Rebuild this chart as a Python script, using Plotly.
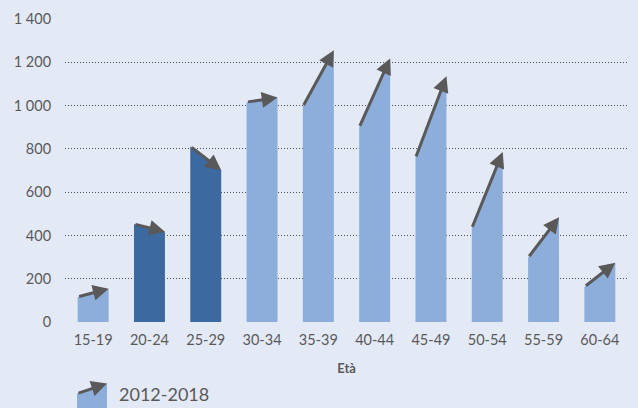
import plotly.graph_objects as go

# Age bands and the two observed levels per band
age_bands = ["15-19", "20-24", "25-29", "30-34", "35-39",
             "40-44", "45-49", "50-54", "55-59", "60-64"]
values_2012 = [116, 453, 812, 1016, 996, 899, 758, 433, 297, 162]
values_2018 = [154, 417, 701, 1037, 1256, 1218, 1136, 786, 484, 274]
y_ticks = [0, 200, 400, 600, 800, 1000, 1200, 1400]

BG = "#E4E9F6"
UP = "#8DAEDB"
DOWN = "#3C6AA0"
ARROW = "#595959"
TEXT = "#595959"
FONT = "Lato"
HALF = 0.275  # half bar width in category units

W, H = 638, 408
ML, MR, MT, MB = 65, 10, 17, 86

fig = go.Figure()

# Each band is a trapezoid: left edge at the 2012 level, right edge at 2018
for i, (a, b) in enumerate(zip(values_2012, values_2018)):
    color = UP if b >= a else DOWN
    fig.add_trace(go.Scatter(
        x=[i - HALF, i - HALF, i + HALF, i + HALF, i - HALF],
        y=[0, a, b, 0, 0],
        mode="lines", fill="toself", fillcolor=color,
        line=dict(width=0, color=color),
        showlegend=False, hoverinfo="skip",
    ))
    fig.add_annotation(
        x=i + HALF, y=b, ax=i - HALF, ay=a,
        xref="x", yref="y", axref="x", ayref="y",
        showarrow=True, arrowhead=2, arrowsize=1.05, arrowwidth=3,
        arrowcolor=ARROW, standoff=0, text="",
    )

# Legend swatch drawn in paper coordinates
pw, ph = W - ML - MR, H - MT - MB
def px(xp):
    return (xp - ML) / pw
def py(yp):
    return (H - MB - yp) / ph

fig.add_shape(type="path", xref="paper", yref="paper",
              path=f"M {px(77)},{py(410)} L {px(77)},{py(394)} L {px(107)},{py(384)} L {px(107)},{py(410)} Z",
              fillcolor=UP, line=dict(width=0))
fig.add_annotation(x=px(107), y=py(384), ax=-30, ay=10,
                   xref="paper", yref="paper", axref="pixel", ayref="pixel",
                   showarrow=True, arrowhead=2, arrowsize=1.05, arrowwidth=3,
                   arrowcolor=ARROW, standoff=0, text="")
fig.add_annotation(x=px(117), y=py(394), xref="paper", yref="paper",
                   text="2012-2018", showarrow=False, xanchor="left", yanchor="middle",
                   font=dict(family=FONT, size=18, color=TEXT))

fig.update_layout(
    width=W, height=H,
    margin=dict(l=ML, r=MR, t=MT, b=MB),
    paper_bgcolor=BG, plot_bgcolor=BG,
    separators=", ",
    showlegend=False,
    font=dict(family=FONT, size=14.5, color=TEXT),
)
fig.update_xaxes(
    range=[-0.5, 9.5], tickvals=list(range(len(age_bands))), ticktext=age_bands,
    showgrid=False, zeroline=False, showline=False,
    ticks="outside", ticklen=5, tickcolor=BG,
    tickfont=dict(family=FONT, size=14.5, color=TEXT),
    title=dict(text="<b>Età</b>", font=dict(family=FONT, size=13, color=TEXT), standoff=16),
)
fig.update_yaxes(
    range=[0, 1400], tickvals=y_ticks, tickformat=",d",
    showgrid=True, gridcolor="#505050", griddash="1px,2px", gridwidth=1,
    zeroline=False, showline=False,
    ticks="outside", ticklen=10, tickcolor=BG,
    tickfont=dict(family=FONT, size=14.5, color=TEXT),
)

fig.write_html("out.html")
